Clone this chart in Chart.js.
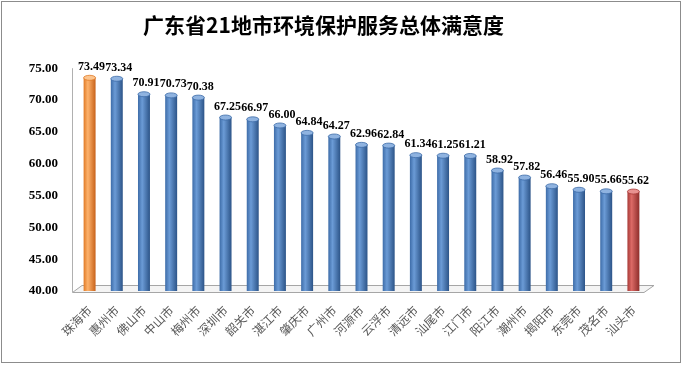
<!DOCTYPE html>
<html>
<head>
<meta charset="utf-8">
<script src="https://cdn.jsdelivr.net/npm/chart.js@4.4.1/dist/chart.umd.min.js"></script>
<style>
html, body { margin: 0; padding: 0; background: #fff; }
</style>
</head>
<body>
<canvas id="satisfaction" width="682" height="365"></canvas>
<script>
//* Input data //*

var cities = ['珠海市', '惠州市', '佛山市', '中山市', '梅州市', '深圳市', '韶关市', '湛江市', '肇庆市', '广州市', '河源市',
              '云浮市', '清远市', '汕尾市', '江门市', '阳江市', '潮州市', '揭阳市', '东莞市', '茂名市', '汕头市'];
var scores = [73.49, 73.34, 70.91, 70.73, 70.38, 67.25, 66.97, 66.00, 64.84, 64.27, 62.96,
              62.84, 61.34, 61.25, 61.21, 58.92, 57.82, 56.46, 55.90, 55.66, 55.62];
var yMin = 40;
var yMax = 75;
var yStep = 5;

// Cylinder shades: left edge, highlight, right edge, top cap.
var blue = ['#3d6ca8', '#6b9bd6', '#2c5488', '#8fb3e0'];
var orange = ['#e07a26', '#fdb26c', '#c8621a', '#fcc58f'];
var red = ['#a83b38', '#dc6a66', '#8e2e2b', '#e89290'];

var shades = cities.map(function (c, i) {
    // Best city orange, worst city red, the rest blue.
    if (i === 0) return orange;
    if (i === cities.length - 1) return red;
    return blue;
});

//* Cylinder fill //*

function cylinderFill(ctx) {
    var chart = ctx.chart;
    var set = shades[ctx.dataIndex] || blue;
    var xs = chart.scales.x;
    if (!xs || !xs.width || ctx.dataIndex == null) return set[1];
    var cx = xs.getPixelForValue(ctx.dataIndex);
    var w = xs.width / cities.length * 0.44;
    var g = chart.ctx.createLinearGradient(cx - w / 2, 0, cx + w / 2, 0);
    g.addColorStop(0, set[0]);
    g.addColorStop(0.35, set[1]);
    g.addColorStop(1, set[2]);
    return g;
}

//* Frame, floor, caps and value labels //*

var cylinderDecor = {
    id: 'cylinderDecor',
    beforeDraw: function (chart) {
        var c = chart.ctx;
        c.save();
        c.fillStyle = '#ffffff';
        c.fillRect(0, 0, chart.width, chart.height);
        c.strokeStyle = '#8c8c8c';
        c.lineWidth = 1;
        c.strokeRect(1.5, 1.5, chart.width - 3, chart.height - 4);
        c.restore();
    },
    beforeDatasetsDraw: function (chart) {
        var a = chart.chartArea;
        var c = chart.ctx;
        c.save();
        // Back wall edge.
        c.strokeStyle = '#b0b0b0';
        c.lineWidth = 1;
        c.beginPath();
        c.moveTo(a.left - 3.5, a.top);
        c.lineTo(a.left - 3.5, a.bottom + 1);
        c.stroke();
        // Floor.
        c.beginPath();
        c.moveTo(a.left + 6, a.bottom - 5.5);
        c.lineTo(a.right + 7, a.bottom - 5.5);
        c.lineTo(a.right - 3, a.bottom + 1.5);
        c.lineTo(a.left - 3.5, a.bottom + 1.5);
        c.closePath();
        c.fillStyle = '#f4f4f4';
        c.fill();
        c.strokeStyle = '#a6a6a6';
        c.stroke();
        c.restore();
    },
    afterDatasetsDraw: function (chart) {
        var c = chart.ctx;
        var meta = chart.getDatasetMeta(0);
        c.save();
        meta.data.forEach(function (bar, i) {
            var rx = bar.width / 2;
            var set = shades[i];
            // Rounded bottom.
            c.fillStyle = bar.options.backgroundColor;
            c.beginPath();
            c.ellipse(bar.x, bar.base, rx, 2.5, 0, 0, Math.PI * 2);
            c.fill();
            // Top cap.
            c.fillStyle = set[3];
            c.beginPath();
            c.ellipse(bar.x, bar.y, rx, 2.5, 0, 0, Math.PI * 2);
            c.fill();
            c.strokeStyle = set[0];
            c.lineWidth = 0.8;
            c.stroke();
            // Value label.
            c.fillStyle = '#000000';
            c.font = 'bold 12px "Liberation Serif"';
            c.textAlign = 'center';
            c.textBaseline = 'bottom';
            c.fillText(scores[i].toFixed(2), bar.x + 2, bar.y - 5);
        });
        c.restore();
    }
};

//* Show the chart //*

var chart = new Chart(document.getElementById('satisfaction').getContext('2d'), {
    type: 'bar',
    data: {
        labels: cities,
        datasets: [{
            data: scores,
            backgroundColor: cylinderFill,
            borderWidth: 0,
            barPercentage: 0.44,
            categoryPercentage: 1
        }]
    },
    options: {
        responsive: false,
        animation: false,
        layout: { padding: { left: 0, right: 35, top: 0, bottom: 0 } },
        plugins: {
            legend: { display: false },
            tooltip: { enabled: false },
            title: {
                display: true,
                text: '广东省21地市环境保护服务总体满意度',
                color: '#000000',
                font: { family: '"Noto Sans CJK SC"', size: 21, weight: 'bold', lineHeight: 1.2 },
                padding: { top: 12, bottom: 31 }
            }
        },
        scales: {
            x: {
                grid: { display: false, drawTicks: false },
                border: { display: false },
                ticks: {
                    color: '#595959',
                    font: { family: '"Noto Sans CJK SC"', size: 12 },
                    minRotation: 45,
                    maxRotation: 45,
                    padding: 12,
                    autoSkip: false
                },
                afterFit: function (scale) { scale.height = 74; }
            },
            y: {
                min: yMin,
                max: yMax,
                grid: { display: false, drawTicks: false },
                border: { display: false },
                ticks: {
                    stepSize: yStep,
                    color: '#000000',
                    padding: 18,
                    font: { family: '"Liberation Serif"', size: 13, weight: 'bold' },
                    callback: function (v) { return Number(v).toFixed(2); }
                },
                afterFit: function (scale) { scale.width = 76; }
            }
        }
    },
    plugins: [cylinderDecor]
});
</script>
</body>
</html>
